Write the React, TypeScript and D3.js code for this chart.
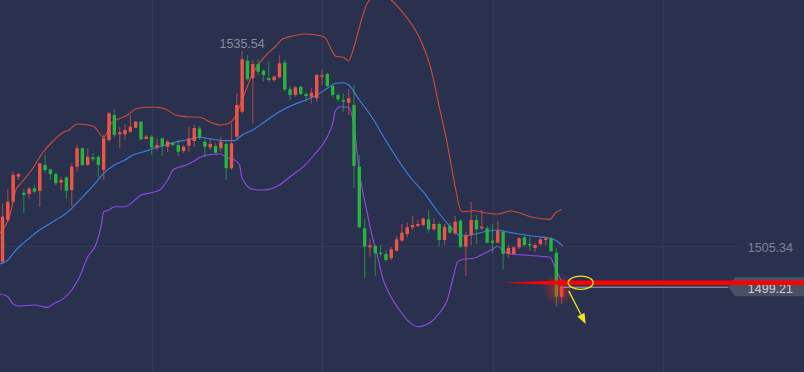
import React from 'react';
import * as d3 from 'd3';

const W = 804;
const H = 372;

// ---- Candle data (OHLC), one entry per minute bar ----
const OPEN = [1503.02,1509.46,1512.28,1516.14,1513.67,1513.47,1514.35,1513.94,1517.95,1517.28,1516.55,1515.21,1516.04,1514.09,1517.69,1520.52,1517.95,1519.13,1519.18,1517.17,1521.80,1525.66,1522.69,1522.69,1523.09,1523.70,1524.63,1521.96,1522.32,1520.67,1522.06,1520.77,1521.39,1521.03,1520.11,1520.92,1521.65,1523.58,1521.54,1520.67,1520.88,1520.52,1521.18,1517.44,1522.32,1526.17,1534.04,1531.33,1533.53,1532.50,1531.37,1531.06,1531.48,1533.73,1529.63,1528.75,1530.03,1528.90,1528.49,1528.24,1531.57,1531.99,1530.14,1528.75,1527.98,1527.56,1527.21,1517.69,1508.18,1505.24,1505.44,1504.41,1504.21,1503.55,1504.72,1506.26,1507.30,1508.33,1508.53,1508.69,1509.56,1508.02,1508.84,1506.37,1508.53,1507.40,1509.35,1505.34,1507.14,1509.46,1508.18,1508.18,1506.26,1505.95,1507.65,1504.21,1504.21,1505.24,1506.79,1505.75,1505.14,1505.75,1506.37,1506.63,1504.41,1497.62];
const HIGH = [1512.08,1514.24,1516.91,1516.71,1514.24,1514.55,1514.86,1518.26,1519.49,1517.44,1516.75,1516.14,1516.24,1518.30,1521.03,1520.67,1520.52,1519.75,1519.49,1522.58,1526.17,1526.59,1523.86,1524.23,1525.66,1524.74,1524.74,1522.58,1522.58,1522.06,1522.11,1521.80,1521.54,1521.80,1521.03,1523.81,1524.12,1523.97,1522.11,1522.11,1521.34,1522.32,1521.54,1524.38,1529.01,1535.54,1534.92,1534.15,1534.26,1532.71,1533.89,1531.84,1534.92,1534.15,1530.14,1530.14,1530.14,1529.26,1529.78,1531.99,1532.71,1532.19,1530.45,1529.01,1529.01,1529.63,1530.29,1519.49,1509.72,1506.48,1505.60,1505.60,1504.83,1505.29,1506.99,1508.84,1509.04,1510.07,1509.46,1509.87,1511.00,1509.72,1509.20,1508.84,1508.95,1510.07,1509.56,1507.65,1512.28,1510.23,1511.00,1508.53,1508.84,1509.35,1507.91,1505.60,1505.44,1506.79,1507.14,1506.79,1505.86,1506.76,1506.88,1506.83,1505.09,1499.69];
const LOW = [1502.82,1509.15,1512.08,1515.63,1510.54,1512.75,1513.63,1511.51,1516.71,1515.63,1514.86,1513.98,1512.70,1511.51,1516.91,1517.79,1517.79,1518.46,1516.09,1515.63,1521.54,1522.32,1520.52,1521.80,1522.84,1523.61,1521.80,1521.91,1519.49,1520.26,1519.34,1519.95,1520.80,1519.34,1519.80,1519.95,1520.72,1521.80,1519.23,1520.26,1519.75,1520.00,1515.63,1517.17,1522.06,1525.92,1530.95,1524.38,1531.84,1530.80,1530.80,1530.80,1531.33,1529.26,1527.98,1528.49,1528.75,1527.72,1527.47,1527.72,1530.29,1529.94,1528.39,1527.72,1526.17,1525.66,1514.35,1508.18,1500.46,1503.79,1500.81,1503.79,1503.02,1503.28,1504.57,1506.11,1506.79,1507.91,1508.33,1508.53,1507.50,1507.80,1505.34,1505.60,1507.40,1507.14,1505.09,1500.81,1505.60,1505.75,1507.91,1505.86,1504.41,1505.86,1501.85,1503.64,1504.06,1504.94,1505.29,1504.72,1504.57,1505.44,1505.60,1504.52,1496.08,1496.49];
const CLOSE = [1509.97,1512.28,1516.40,1516.55,1513.32,1514.29,1513.83,1518.21,1517.17,1516.55,1515.12,1515.63,1513.98,1517.69,1520.52,1517.95,1519.23,1518.82,1517.95,1522.06,1525.92,1522.58,1523.00,1523.35,1523.86,1524.63,1521.91,1522.32,1520.64,1521.03,1520.88,1521.54,1521.03,1520.00,1520.77,1522.06,1523.66,1522.11,1520.77,1521.18,1519.84,1521.54,1517.44,1521.29,1527.21,1534.26,1531.17,1533.53,1532.34,1531.84,1531.06,1531.57,1533.64,1529.63,1528.75,1529.94,1528.90,1528.59,1529.10,1531.84,1531.79,1530.14,1528.75,1528.09,1527.72,1528.24,1517.79,1508.33,1505.34,1505.55,1504.32,1504.21,1503.28,1504.94,1506.48,1507.50,1508.33,1508.69,1508.84,1509.66,1508.02,1508.84,1506.37,1508.42,1507.50,1509.20,1505.34,1507.14,1509.46,1508.02,1508.42,1505.95,1505.95,1507.80,1504.21,1505.14,1505.24,1506.63,1505.60,1505.52,1505.60,1506.48,1506.63,1504.67,1497.62,1499.21];

// ---- Bollinger bands: [bar index, price] ----
const UPPER_BAND: [number, number][] = [[-0.5,1507.45],[1.5,1510.54],[2.5,1514.09],[3.5,1515.17],[5.5,1517.17],[7.5,1519.80],[9.5,1521.65],[11.5,1523.04],[12.5,1523.35],[14,1524.27],[17,1523.96],[19,1522.27],[20.5,1524.43],[23.5,1525.66],[25,1526.59],[27,1526.85],[29,1526.85],[31,1526.43],[32.5,1525.66],[34.5,1525.40],[37,1525.31],[39.5,1524.38],[41,1524.12],[42.5,1524.38],[43.5,1525.15],[45,1527.98],[47,1532.10],[49.5,1534.92],[51.5,1536.46],[52.5,1537.34],[54.5,1537.85],[56.5,1538.16],[59,1538.01],[60.5,1537.65],[61.5,1536.20],[62.5,1534.77],[64,1534.54],[65,1534.04],[66,1536.20],[67.5,1540.63],[68.5,1542.90],[71,1544.64],[73,1543.41],[74.5,1542.13],[76.5,1540.06],[78.5,1537.24],[80.5,1532.61],[82,1526.94],[83.5,1521.29],[85,1514.60],[86,1511.00],[86.5,1510.74],[88.5,1510.89],[90.5,1510.58],[93,1510.38],[95.5,1510.85],[97,1510.58],[99.5,1509.87],[102.8,1509.56],[103.8,1510.54],[105,1511.08]];
const MIDDLE_BAND: [number, number][] = [[-0.5,1502.67],[1,1503.28],[2,1504.32],[3.5,1505.60],[5,1506.63],[6.5,1507.65],[8.5,1508.69],[10,1509.46],[11.5,1510.23],[13,1511.26],[14.5,1512.54],[16,1513.83],[17.5,1515.21],[19,1516.66],[21,1517.95],[23,1518.72],[24.5,1519.49],[26.5,1520.00],[28.5,1520.52],[30,1520.88],[32,1521.39],[34.5,1521.80],[37,1522.22],[39.5,1521.91],[42,1521.70],[43.5,1521.70],[45,1522.58],[47,1523.35],[49.5,1524.78],[52,1526.17],[54.5,1527.21],[57,1527.98],[59,1528.75],[61,1529.78],[62.5,1530.55],[64,1530.65],[65,1530.29],[67,1527.98],[69.5,1525.15],[72,1521.68],[74.5,1518.45],[77,1515.63],[79,1513.83],[81.5,1511.00],[83.5,1508.95],[85,1507.65],[86,1506.99],[88,1507.14],[90.5,1507.65],[93,1507.91],[94.5,1507.65],[97,1507.30],[100.5,1506.88],[102.8,1506.63],[104,1506.26],[105.2,1505.45]];
const LOWER_BAND: [number, number][] = [[-0.5,1498.04],[1,1497.62],[2,1496.49],[3,1496.19],[6,1496.34],[8.5,1495.98],[9.5,1496.49],[11.5,1497.37],[13,1498.65],[14.5,1500.71],[16,1503.79],[17.5,1505.60],[18.5,1508.42],[19,1510.74],[20,1511.00],[21,1511.51],[23,1511.51],[24.5,1512.28],[26,1513.32],[27.5,1513.58],[29.5,1514.09],[31,1515.63],[32,1517.17],[33.5,1517.69],[34.5,1517.95],[36,1518.56],[37,1519.10],[38.5,1519.49],[41,1519.64],[42,1519.13],[43.5,1518.72],[44.5,1517.95],[45,1515.89],[47,1514.19],[49,1514.09],[52,1514.86],[54,1516.14],[56.5,1517.69],[58.5,1519.49],[61,1522.31],[62,1524.38],[62.5,1526.31],[63.5,1526.94],[65,1526.85],[66,1523.86],[67,1516.91],[68.5,1510.49],[69,1508.42],[70.5,1503.59],[71.5,1500.20],[72,1499.16],[74.5,1495.60],[76.5,1493.61],[78,1492.99],[80.5,1493.76],[82,1495.06],[83.5,1497.11],[84.5,1500.20],[85.5,1503.02],[86.5,1503.39],[88.5,1503.55],[90.5,1504.32],[92,1504.94],[93,1505.44],[94,1504.72],[95.5,1504.21],[98,1504.06],[100.5,1503.90],[102.8,1503.70],[103.7,1502.25],[104.7,1500.46],[105.3,1499.69]];

// ---- Axes ----
const Y_TICKS = [1505.34];
const X_GRID = [28.15, 60.1, 92.1, 124.05];
const ANNOTATION_PRICE = 1499.78;

const C_BG = '#29314f';
const C_GRID = '#343c5b';
const C_UP = '#ef5447';
const C_DOWN = '#27b43f';

export default function App() {
  const x = d3.scaleLinear().domain([0, 105]).range([2.5, 561.7]);
  const y = d3.scaleLinear().domain([1486.0, 1543.41]).range([H, 0]);
  const bw = 3.4;

  const line = d3
    .line<[number, number]>()
    .x((d) => x(d[0]))
    .y((d) => y(d[1]))
    .curve(d3.curveMonotoneX);

  const n = CLOSE.length;
  const maxHigh = d3.max(HIGH) as number;
  const maxIdx = HIGH.indexOf(maxHigh);
  const last = CLOSE[n - 1];
  const lastX = x(n - 1);
  const lastY = y(last);
  const annY = y(ANNOTATION_PRICE);

  const tagLeft = 728.3;
  const tagTop = lastY - 9.5;
  const tagBot = lastY + 9.8;

  // arrow geometry
  const a0 = [lastX + 7, lastY + 4.5];
  const tip = [lastX + 24, lastY + 37.5];
  const dx = tip[0] - a0[0];
  const dy = tip[1] - a0[1];
  const len = Math.hypot(dx, dy);
  const ux = dx / len, uy = dy / len;
  const bx = tip[0] - 10.5 * ux, by = tip[1] - 10.5 * uy;
  const px = -uy, py = ux;

  return (
    <>
      <style>{'body{margin:0;overflow:hidden;}'}</style>
      <svg width={W} height={H} style={{ display: 'block' }} fontFamily="'Liberation Sans', Arial, sans-serif">
        <defs>
          <radialGradient id="glow">
            <stop offset="0%" stopColor="#ff2a1a" stopOpacity={0.55} />
            <stop offset="60%" stopColor="#ff2a1a" stopOpacity={0.2} />
            <stop offset="100%" stopColor="#ff2a1a" stopOpacity={0} />
          </radialGradient>
          <clipPath id="clip">
            <rect x={0} y={0} width={W} height={H} />
          </clipPath>
        </defs>
        <rect width={W} height={H} fill={C_BG} />
        {X_GRID.map((g) => (
          <line key={g} x1={x(g)} x2={x(g)} y1={0} y2={H} stroke={C_GRID} strokeWidth={1} />
        ))}
        {Y_TICKS.map((t) => (
          <line key={t} x1={0} x2={742} y1={y(t)} y2={y(t)} stroke={C_GRID} strokeWidth={1} />
        ))}
        <g clipPath="url(#clip)" fill="none" strokeWidth={1.1}>
          <path d={line(UPPER_BAND) || ''} stroke="#d14b36" />
          <path d={line(MIDDLE_BAND) || ''} stroke="#3f7fe2" />
          <path d={line(LOWER_BAND) || ''} stroke="#9349e6" />
        </g>
        <g>
          {CLOSE.map((c, i) => {
            const o = OPEN[i];
            const up = c >= o;
            const col = up ? C_UP : C_DOWN;
            const cx = x(i);
            const top = y(Math.max(o, c));
            const bot = y(Math.min(o, c));
            return (
              <g key={i}>
                <line x1={cx} x2={cx} y1={y(HIGH[i])} y2={y(LOW[i])} stroke={col} strokeOpacity={0.55} strokeWidth={1.3} />
                <rect x={cx - bw / 2} y={top} width={bw} height={Math.max(1.2, bot - top)} fill={col} />
              </g>
            );
          })}
        </g>
        <circle cx={lastX - 3} cy={lastY + 3} r={17} fill="url(#glow)" />
        <line x1={lastX + 1.5} x2={tagLeft} y1={lastY + 0.8} y2={lastY + 0.8} stroke="#a3a8b6" strokeWidth={1} />
        <path
          d={`M${tagLeft},${lastY + 0.8} L${tagLeft + 6.7},${tagTop} L${W},${tagTop} L${W},${tagBot} L${tagLeft + 6.7},${tagBot} Z`}
          fill="#4a5064"
        />
        <text x={793} y={lastY + 6.6} textAnchor="end" fontSize={12.5} fill="#c9ccd5">
          {last.toFixed(2)}
        </text>
        <path
          d={`M${lastX - 58},${annY} L${lastX - 2},${annY - 2.3} L${W},${annY - 2.3} L${W},${annY + 2.3} L${lastX - 2},${annY + 2.3} Z`}
          fill="#ff0000"
        />
        <ellipse cx={lastX + 19} cy={annY} rx={12.5} ry={6.6} fill="none" stroke="#f2e41c" strokeWidth={1.3} />
        <line x1={a0[0]} y1={a0[1]} x2={bx} y2={by} stroke="#f2e41c" strokeWidth={1.3} />
        <path
          d={`M${tip[0]},${tip[1]} L${bx + 4 * px},${by + 4 * py} L${bx - 4 * px},${by - 4 * py} Z`}
          fill="#f2e41c"
        />
        {Y_TICKS.map((t) => (
          <text key={t} x={793} y={y(t) + 5.5} textAnchor="end" fontSize={12.5} fill="#7c8296">
            {t.toFixed(2)}
          </text>
        ))}
        <text x={x(maxIdx)} y={y(maxHigh) - 2.5} textAnchor="middle" fontSize={12.5} fill="#868b9e">
          {maxHigh.toFixed(2)}
        </text>
      </svg>
    </>
  );
}
